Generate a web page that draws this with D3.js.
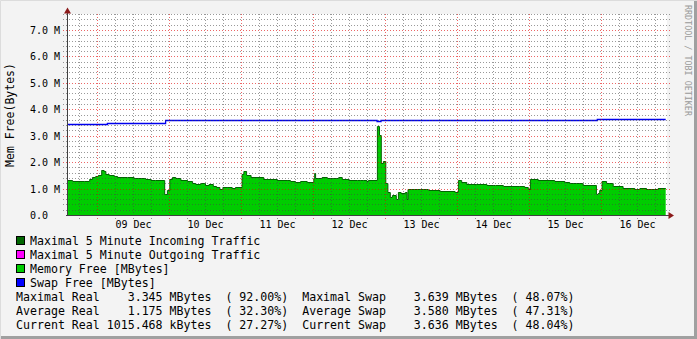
<!DOCTYPE html>
<html>
<head>
<meta charset="utf-8">
<title>Mem Free</title>
<style>
  body { margin: 0; background: #f3f3f3; }
  svg { display: block; }
  text { font-family: "DejaVu Sans Mono", monospace; fill: #000; }
</style>
</head>
<body>
<script src="https://d3js.org/d3.v7.min.js"></script>
<script>
// data: hours after the start of the graph, values in MBytes
const startTime = new Date(2010, 11, 8, 14, 0);
const spanHours = 200;

const memHours = [0, 1.7, 5.6, 6.5, 7.4, 8.3, 9.4, 10.3, 11.4, 12.2, 12.8, 13.9, 15.6, 16.7, 20, 22.2,
  26.1, 27.8, 29.4, 32.4, 33.3, 34.1, 35, 36.1, 37.8, 40, 41.7, 42.8, 44.4, 46, 47.2, 48.6, 49.7,
  50.8, 51.8, 53.2, 54.9, 56, 58.2, 58.8, 59.7, 61.2, 65.4, 66.8, 69.9, 73.2, 74.3, 76, 77.7, 79.9,
  82.1, 82.4, 82.7, 83.2, 84.9, 86.6, 88.2, 90.4, 91.6, 93.8, 96.6, 97.6, 98.7, 99.8, 100.3, 103.3,
  104, 104.6, 105.3, 106.1, 106.8, 107.6, 108.3, 109.6, 110.3, 111.2, 112.6, 113.2, 113.5, 120.3,
  124.2, 129.2, 130.3, 131.4, 133.1, 136.4, 139.8, 142.6, 145.3, 150.8, 152.4, 153.6, 154.3, 156.9,
  160.8, 162.4, 165.8, 167.4, 169.7, 171.9, 176.3, 176.9, 177.4, 178.2, 179.7, 181.9, 185.2, 189.1,
  190.8, 193, 196.9, 199.4];
const memFree = [1.31, 1.28, 1.30, 1.27, 1.37, 1.43, 1.47, 1.53, 1.72, 1.66, 1.56, 1.51, 1.48, 1.45, 1.42, 1.39,
  1.36, 1.32, 1.31, 0.80, 0.93, 1.37, 1.43, 1.40, 1.34, 1.28, 1.22, 1.18, 1.20, 1.15, 1.18, 1.09, 1.07,
  1.00, 1.07, 1.06, 1.03, 1.06, 1.55, 1.67, 1.50, 1.45, 1.38, 1.36, 1.34, 1.32, 1.28, 1.26, 1.29, 1.26,
  1.39, 1.60, 1.39, 1.41, 1.45, 1.41, 1.39, 1.42, 1.36, 1.33, 1.31, 1.34, 1.31, 1.29, 1.31, 3.35,
  3.01, 1.98, 2.04, 1.22, 0.86, 0.67, 0.74, 0.59, 0.88, 0.84, 0.86, 0.62, 0.97, 0.93,
  0.89, 0.86, 1.31, 1.26, 1.19, 1.16, 1.13, 1.12, 1.08, 1.09, 1.06, 1.00, 1.38, 1.34,
  1.31, 1.28, 1.26, 1.22, 1.20, 1.15, 0.78, 0.83, 0.93, 1.28, 1.20, 1.08, 1.03, 1.00,
  1.03, 1.00, 1.04, 1.04];

const swapHours = [0, 13.3, 32.7, 103.2, 104.5, 176.6, 199.4];
const swapFree = [3.44, 3.48, 3.61, 3.57, 3.61, 3.64, 3.64];

const yTicks = d3.range(0, 39).map(i => i * 0.2);
const legendItems = ["Maximal 5 Minute Incoming Traffic", "Maximal 5 Minute Outgoing Traffic",
  "Memory Free [MBytes]", "Swap Free [MBytes]"];
const legendColors = ["#006600", "#ff00ff", "#00cc00", "#0000ff"];
const statLines = [
  "Maximal Real    3.345 MBytes  ( 92.00%)  Maximal Swap    3.639 MBytes  ( 48.07%)",
  "Average Real    1.175 MBytes  ( 32.30%)  Average Swap    3.580 MBytes  ( 47.31%)",
  "Current Real 1015.468 kBytes  ( 27.27%)  Current Swap    3.636 MBytes  ( 48.04%)"
];

const width = 697, height = 339;
const hour = 3600 * 1000;
const at = h => new Date(startTime.getTime() + h * hour);
const crisp = v => Math.round(v - 0.5) + 0.5;

const svg = d3.select("body").append("svg")
  .attr("width", width)
  .attr("height", height);

// frame
svg.append("rect").attr("width", width).attr("height", height).attr("fill", "#f3f3f3");
svg.append("path").attr("d", "M0.5,339V0.5H697").attr("fill", "none").attr("stroke", "#dcdcdc");
svg.append("path").attr("d", "M1,337.5H695.5V1").attr("fill", "none").attr("stroke", "#a0a0a0").attr("stroke-width", 3);

const x = d3.scaleTime().domain([startTime, at(spanHours)]).range([67.5, 667.5]);
const y = d3.scaleLinear().domain([0, 7.6]).range([215.5, 14.6]);

// canvas
svg.append("rect").attr("x", 67).attr("y", 14).attr("width", 600).attr("height", 202).attr("fill", "#fff");

const mem = memHours.map((h, i) => ({ t: at(h), v: memFree[i] }));
const swap = swapHours.map((h, i) => ({ t: at(h), v: swapFree[i] }));

const area = d3.area().curve(d3.curveStepAfter)
  .x(d => x(d.t)).y0(y(0)).y1(d => y(d.v));
const line = d3.line().curve(d3.curveStepAfter)
  .x(d => x(d.t)).y(d => crisp(y(d.v)));

svg.append("path").datum(mem).attr("d", area).attr("fill", "#00cc00");
svg.append("path").datum(mem).attr("d", line).attr("fill", "none").attr("stroke", "#006600");
svg.append("path").datum(swap).attr("d", line).attr("fill", "none").attr("stroke", "#0000ee").attr("stroke-width", 1.3);

// grid
const minorCol = "rgba(70,70,70,0.55)";
const majorCol = "rgba(225,0,0,0.6)";
const grid = svg.append("g");
yTicks.forEach((v, i) => {
  if (i === 0) return;
  grid.append("line")
    .attr("x1", 63).attr("x2", 670)
    .attr("y1", crisp(y(v))).attr("y2", crisp(y(v)))
    .attr("stroke", i % 5 === 0 ? majorCol : minorCol)
    .attr("stroke-dasharray", "1,2");
});
d3.timeHour.every(6).range(at(0.01), at(spanHours)).forEach(t => {
  const major = t.getHours() === 0;
  grid.append("line")
    .attr("x1", crisp(x(t))).attr("x2", crisp(x(t)))
    .attr("y1", 14).attr("y2", 219)
    .attr("stroke", major ? majorCol : minorCol)
    .attr("stroke-dasharray", "1,2");
});

// axes
svg.append("line").attr("x1", 67.5).attr("x2", 67.5).attr("y1", 12).attr("y2", 216).attr("stroke", "#404040");
svg.append("line").attr("x1", 66).attr("x2", 669).attr("y1", 215.5).attr("y2", 215.5).attr("stroke", "#404040");
svg.append("path").attr("d", "M64,13.5L71,13.5L67.5,7.5Z").attr("fill", "#8b1a1a");
svg.append("path").attr("d", "M668.5,212L668.5,219L674,215.5Z").attr("fill", "#8b1a1a");

// y labels
yTicks.filter((v, i) => i % 5 === 0).forEach(v => {
  svg.append("text")
    .attr("x", 60).attr("y", crisp(y(v)) + 3.5)
    .attr("text-anchor", "end")
    .attr("font-size", 10)
    .style("white-space", "pre")
    .text(v === 0 ? "0.0  " : v.toFixed(1) + " M");
});

// x labels at noon
const fmt = d3.timeFormat("%d %b");
d3.timeDay.range(at(0), at(spanHours)).forEach(d => {
  const noon = new Date(d.getTime() + 12 * hour);
  if (noon > at(spanHours)) return;
  svg.append("text")
    .attr("x", x(noon)).attr("y", 228)
    .attr("text-anchor", "middle")
    .attr("font-size", 10)
    .text(fmt(noon));
});

// titles
svg.append("text")
  .attr("transform", "translate(14,115) rotate(-90)")
  .attr("text-anchor", "middle")
  .attr("font-size", 11.5)
  .text("Mem Free(Bytes)");

svg.append("text")
  .attr("transform", "translate(685,5) rotate(90)")
  .attr("font-size", 8.4)
  .style("fill", "#9a9a9a")
  .text("RRDTOOL / TOBI OETIKER");

// legend
legendItems.forEach((name, i) => {
  const cy = 241 + i * 14;
  svg.append("rect")
    .attr("x", 16.5).attr("y", cy - 4.5)
    .attr("width", 8).attr("height", 8)
    .attr("fill", legendColors[i])
    .attr("stroke", "#000");
  svg.append("text")
    .attr("x", 30).attr("y", cy + 4)
    .attr("font-size", 11.6)
    .text(name);
});
statLines.forEach((s, i) => {
  svg.append("text")
    .attr("x", 16).attr("y", 297 + i * 14 + 4)
    .attr("font-size", 11.6)
    .style("white-space", "pre")
    .text(s);
});
</script>
</body>
</html>
